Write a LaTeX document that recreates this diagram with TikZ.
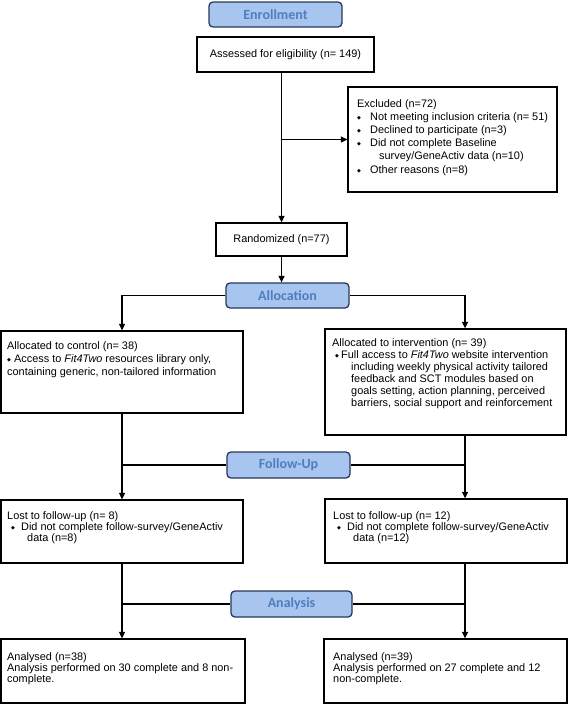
\documentclass[tikz,border=0pt]{standalone}
\usepackage{fontspec}
\setmainfont{Liberation Sans}
\newfontfamily\labelfont{Carlito}
\newfontfamily\symfont{DejaVu Sans}
\usetikzlibrary{arrows.meta}
\definecolor{lblfill}{RGB}{168,197,240}
\definecolor{lbldraw}{RGB}{40,56,88}
\definecolor{lbltext}{RGB}{78,126,190}
\newcommand\bul{{\symfont\fontsize{5}{5}\selectfont\raisebox{0.7pt}{◆}}}
\newcommand\txt[2]{\parbox[t]{236pt}{\fontsize{10.9}{#1}\selectfont #2}}
\begin{document}
\begin{tikzpicture}[x=1pt,y=-1pt,
  box/.style={draw=black, line width=1.3pt, inner sep=0pt, fill=white},
  lbl/.style={draw=lbldraw, fill=lblfill, rounded corners=4pt, line width=1.3pt, inner sep=0pt,
    font=\labelfont\bfseries\fontsize{14}{16}\selectfont, text=lbltext},
  arr/.style={-{Triangle[length=6.5pt,width=6pt]}, line width=1.3pt},
  ln/.style={line width=1.3pt},
  txtnode/.style={anchor=base west, inner sep=0pt}]
\useasboundingbox (0,0) rectangle (568,704);
% stage labels
\node[lbl, minimum width=133pt, minimum height=25pt] (enroll) at (275.5,14.5) {Enrollment};
\node[lbl, minimum width=123pt, minimum height=25pt] (alloc) at (287.5,295.5) {Allocation};
\node[lbl, minimum width=123pt, minimum height=26pt] (follow) at (288.5,465) {Follow-Up};
\node[lbl, minimum width=121pt, minimum height=26pt] (analysis) at (291.5,604) {Analysis};
% boxes
\node[box, minimum width=177pt, minimum height=35pt, font=\fontsize{10.9}{13}\selectfont] (assess) at (285.5,54.5) {Assessed for eligibility (n= 149)};
\node[box, minimum width=209pt, minimum height=105pt] (excl) at (452.5,139.5) {};
\node[box, minimum width=131pt, minimum height=33pt, font=\fontsize{10.9}{13}\selectfont] (rand) at (281.5,239.5) {Randomized (n=77)};
\node[box, minimum width=242pt, minimum height=82pt] (ctrl) at (122,372) {};
\node[box, minimum width=241pt, minimum height=106pt] (intv) at (445.5,382) {};
\node[box, minimum width=242pt, minimum height=63pt] (lostA) at (122,531.5) {};
\node[box, minimum width=242pt, minimum height=64pt] (lostB) at (446,531) {};
\node[box, minimum width=244pt, minimum height=64pt] (anA) at (123,671) {};
\node[box, minimum width=243pt, minimum height=64pt] (anB) at (445.5,671) {};
\coordinate (rcol) at (465,0);
% texts
\node[txtnode] (exclT) at (357,107) {\txt{13.2}{Excluded (n=72)\\
\makebox[13pt][l]{\bul}Not meeting inclusion criteria (n= 51)\\
\makebox[13pt][l]{\bul}Declined to participate (n=3)\\
\makebox[13pt][l]{\bul}Did not complete Baseline\\
\hspace*{22pt}survey/GeneActiv data (n=10)\\
\makebox[13pt][l]{\bul}Other reasons (n=8)}};
\node[txtnode] (ctrlT) at (7,349) {\txt{13}{Allocated to control (n= 38)\\
\makebox[7pt][l]{\bul}Access to \textit{Fit4Two} resources library only,\\
containing generic, non-tailored information}};
\node[txtnode] (intvT) at (332,346) {\txt{12}{Allocated to intervention (n= 39)\\
\hspace*{3pt}\makebox[6pt][l]{\bul}Full access to \textit{Fit4Two} website intervention\\
\hspace*{19pt}including weekly physical activity tailored\\
\hspace*{19pt}feedback and SCT modules based on\\
\hspace*{19pt}goals setting, action planning, perceived\\
\hspace*{19pt}barriers, social support and reinforcement}};
\node[txtnode] (lostAT) at (7,519) {\txt{11.3}{Lost to follow-up (n= 8)\\
\hspace*{4pt}\makebox[10pt][l]{\bul}Did not complete follow-survey/GeneActiv\\
\hspace*{20pt}data (n=8)}};
\node[txtnode] (lostBT) at (333,519) {\txt{11.3}{Lost to follow-up (n= 12)\\
\hspace*{4pt}\makebox[10pt][l]{\bul}Did not complete follow-survey/GeneActiv\\
\hspace*{20pt}data (n=12)}};
\node[txtnode] (anAT) at (7,660) {\txt{11.3}{Analysed (n=38)\\
Analysis performed on 30 complete and 8 non-\\
complete.}};
\node[txtnode] (anBT) at (333,660) {\txt{11.3}{Analysed (n=39)\\
Analysis performed on 27 complete and 12\\
non-complete.}};
% connectors
\draw[arr] (assess.south -| rand.north) -- (rand.north);
\draw[arr] (rand.north |- excl.west) -- (excl.west);
\draw[arr] (rand.south) -- (rand.south |- alloc.north);
\draw[arr] (alloc.west) -| (ctrl.north);
\draw[arr] (alloc.east) -| (rcol |- intv.north);
\draw[arr] (ctrl.south) -- (lostA.north);
\draw[ln] (follow.west) -- (follow.west -| ctrl.south);
\draw[arr] (rcol |- intv.south) -- (rcol |- lostB.north);
\draw[ln] (follow.east) -- (follow.east -| rcol);
\draw[arr] (lostA.south) -- (lostA.south |- anA.north);
\draw[ln] (analysis.west) -- (analysis.west -| lostA.south);
\draw[arr] (rcol |- lostB.south) -- (rcol |- anB.north);
\draw[ln] (analysis.east) -- (analysis.east -| rcol);
\end{tikzpicture}
\end{document}
